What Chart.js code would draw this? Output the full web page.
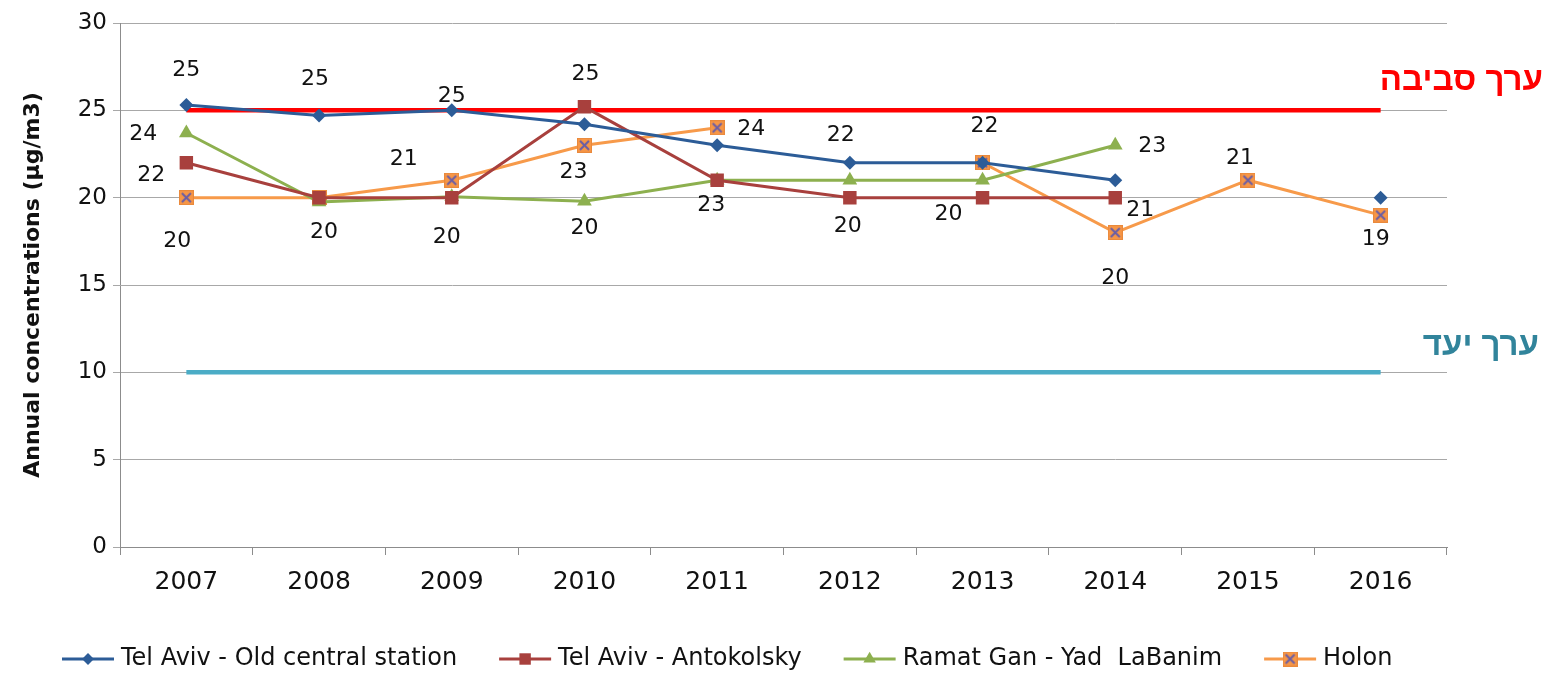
<!DOCTYPE html>
<html>
<head>
<meta charset="utf-8">
<script src="https://cdn.jsdelivr.net/npm/chart.js@4/dist/chart.umd.min.js"></script>
<style>
html,body{margin:0;padding:0;background:#fff;}
#wrap{width:1550px;height:678px;position:relative;}
</style>
</head>
<body>
<div id="wrap"><canvas id="c" width="1550" height="678"></canvas></div>
<script>
// ---- data ----
const categories = ['2007','2008','2009','2010','2011','2012','2013','2014','2015','2016'];
const seriesNames = ['Tel Aviv - Old central station','Tel Aviv - Antokolsky','Ramat Gan - Yad  LaBanim','Holon'];
const telAvivOld   = [25.3, 24.7, 25.0, 24.2, 23.0, 22.0, 22.0, 21.0, null, 20.0];
const antokolsky   = [22.0, 20.0, 20.0, 25.2, 21.0, 20.0, 20.0, 20.0, null, null];
const ramatGan     = [23.7, 19.75, 20.05, 19.8, 21.0, 21.0, 21.0, 23.0, null, null];
const holon        = [20.0, 20.0, 21.0, 23.0, 24.0, null, 22.0, 18.0, 21.0, 19.0];
const limitEnvironment = [25, 25, 25, 25, 25, 25, 25, 25, 25, 25];
const limitTarget      = [10, 10, 10, 10, 10, 10, 10, 10, 10, 10];
const yTicks = [0, 5, 10, 15, 20, 25, 30];
const yTitle = 'Annual concentrations (µg/m3)';
const hebrewEnv = 'ערך סביבה';
const hebrewTarget = 'ערך יעד';
// data label texts: [series index, category index, text]
const dataLabelTexts = [
  [0,0,'25'],[0,1,'25'],[0,2,'25'],[1,3,'25'],
  [2,0,'24'],[1,0,'22'],[3,0,'20'],[2,1,'20'],
  [3,2,'21'],[1,2,'20'],[3,3,'23'],[2,3,'20'],
  [3,4,'24'],[0,4,'23'],[0,5,'22'],[1,5,'20'],
  [0,6,'22'],[1,6,'20'],[2,7,'23'],[0,7,'21'],
  [1,7,'20'],[3,8,'21'],[3,9,'19']
];
// ---- placement (pixel offsets of each label from its point) ----
const labelOffsets = [
  [0,-35],[-4,-36],[0,-14],[1,-33],
  [-43,1],[-35,13],[-9,44],[5,30],
  [-48,-21],[-5,40],[-11,27],[0,27],
  [34,1],[-6,60],[-9,-27],[-2,29],
  [2,-36],[-34,17],[37,1],[25,30],
  [0,81],[-8,-22],[-5,24]
];

const COL = {
  blue:'#2C5C97', red:'#A8403D', green:'#8DB04F', orange:'#F79A4A',
  oFill:'#F79646', oX:'#6A5EA6', env:'#FF0000', target:'#4BACC6',
  targetText:'#31849B'
};

function holonMarker(){
  const c = document.createElement('canvas');
  c.width = 15; c.height = 15;
  const g = c.getContext('2d');
  g.fillStyle = COL.oFill;
  g.fillRect(0,0,15,15);
  g.strokeStyle = '#E9893C'; g.lineWidth = 1;
  g.strokeRect(0.5,0.5,14,14);
  g.strokeStyle = COL.oX; g.lineWidth = 2;
  g.beginPath();
  g.moveTo(3,3); g.lineTo(12,12);
  g.moveTo(12,3); g.lineTo(3,12);
  g.stroke();
  return c;
}
const holonImg = holonMarker();

const seriesStyles = [
  {color:COL.blue, pointStyle:'rectRot', radius:7},
  {color:COL.red, pointStyle:'rect', radius:9.5},
  {color:COL.green, pointStyle:'triangle', radius:8.5},
  {color:COL.orange, pointStyle:holonImg, radius:7.5}
];
const seriesData = [telAvivOld, antokolsky, ramatGan, holon];

const datasets = seriesData.map((d,i)=>({
  label: seriesNames[i],
  data: d,
  borderColor: seriesStyles[i].color,
  backgroundColor: seriesStyles[i].color,
  pointBackgroundColor: seriesStyles[i].color,
  pointBorderColor: seriesStyles[i].color,
  pointBorderWidth: 0,
  borderWidth: 3,
  pointStyle: seriesStyles[i].pointStyle,
  pointRadius: seriesStyles[i].radius,
  pointHoverRadius: seriesStyles[i].radius,
  spanGaps: false,
  tension: 0
}));
datasets.push({label:'env', data: limitEnvironment, borderColor: COL.env, borderWidth: 4.5, pointRadius: 0, tension:0});
datasets.push({label:'target', data: limitTarget, borderColor: COL.target, borderWidth: 4.5, pointRadius: 0, tension:0});

const FONT = "'DejaVu Sans', sans-serif";

const overlayPlugin = {
  id: 'overlay',
  afterDatasetsDraw(chart){
    const ctx = chart.ctx;
    ctx.save();
    ctx.font = "22px " + FONT;
    ctx.fillStyle = '#111';
    ctx.textAlign = 'center';
    ctx.textBaseline = 'middle';
    dataLabelTexts.forEach((l,k)=>{
      const pt = chart.getDatasetMeta(l[0]).data[l[1]];
      if(!pt) return;
      ctx.fillText(l[2], pt.x + labelOffsets[k][0], pt.y + labelOffsets[k][1]);
    });
    // Hebrew annotations
    const ys = chart.scales.y, area = chart.chartArea;
    ctx.direction = 'rtl';
    ctx.textAlign = 'right';
    ctx.textBaseline = 'alphabetic';
    ctx.font = "bold 33px 'Liberation Sans', 'DejaVu Sans', sans-serif";
    ctx.fillStyle = COL.env;
    ctx.fillText(hebrewEnv, area.right + 96, ys.getPixelForValue(25) - 20);
    ctx.fillStyle = COL.targetText;
    ctx.fillText(hebrewTarget, area.right + 92, ys.getPixelForValue(10) - 17);
    ctx.restore();
  },
  afterDraw(chart){
    // legend: line + marker + text
    const ctx = chart.ctx;
    ctx.save();
    ctx.font = "24px " + FONT;
    ctx.textBaseline = 'middle';
    ctx.textAlign = 'left';
    let x = 62;
    const y = 659;
    for(let i=0;i<4;i++){
      const st = seriesStyles[i];
      ctx.strokeStyle = st.color;
      ctx.lineWidth = 3;
      ctx.beginPath(); ctx.moveTo(x, y); ctx.lineTo(x+52, y); ctx.stroke();
      if (typeof st.pointStyle === 'string') {
        ctx.fillStyle = st.color;
        Chart.helpers.drawPoint(ctx, {pointStyle: st.pointStyle, radius: st.radius * 0.85, borderWidth: 0}, x+26, y);
      } else {
        ctx.drawImage(st.pointStyle, x+26-7.5, y-7.5);
      }
      ctx.fillStyle = '#111';
      ctx.fillText(seriesNames[i], x+59, y);
      x += 59 + ctx.measureText(seriesNames[i]).width + 42;
    }
    ctx.restore();
  }
};

new Chart(document.getElementById('c'), {
  type: 'line',
  data: { labels: categories, datasets },
  options: {
    responsive: false,
    animation: false,
    devicePixelRatio: 1,
    layout: { padding: { top: 23, right: 103, bottom: 0, left: 0 } },
    plugins: { legend: { display: false }, tooltip: { enabled: false } },
    scales: {
      x: {
        offset: true,
        grid: { display: true, drawOnChartArea: false, offset: true, tickLength: 8, color: '#8C8C8C' },
        border: { color: '#8C8C8C', width: 1 },
        ticks: { font: { family: FONT, size: 25 }, color: '#111', padding: 12, maxRotation: 0 },
        afterFit(s){ s.height = 131; }
      },
      y: {
        min: 0, max: 30,
        afterBuildTicks(s){ s.ticks = yTicks.map(v=>({value:v})); },
        grid: { color: '#A8A8A8', tickLength: 7 },
        border: { color: '#8C8C8C', width: 1 },
        ticks: { font: { family: FONT, size: 23 }, color: '#111', padding: 6 },
        title: { display: true, text: yTitle, font: { family: FONT, size: 22, weight: 'bold' }, color: '#111', padding: { top: 20, bottom: 0 } },
        afterFit(s){ s.width = 120; }
      }
    }
  },
  plugins: [overlayPlugin]
});
</script>
</body>
</html>
